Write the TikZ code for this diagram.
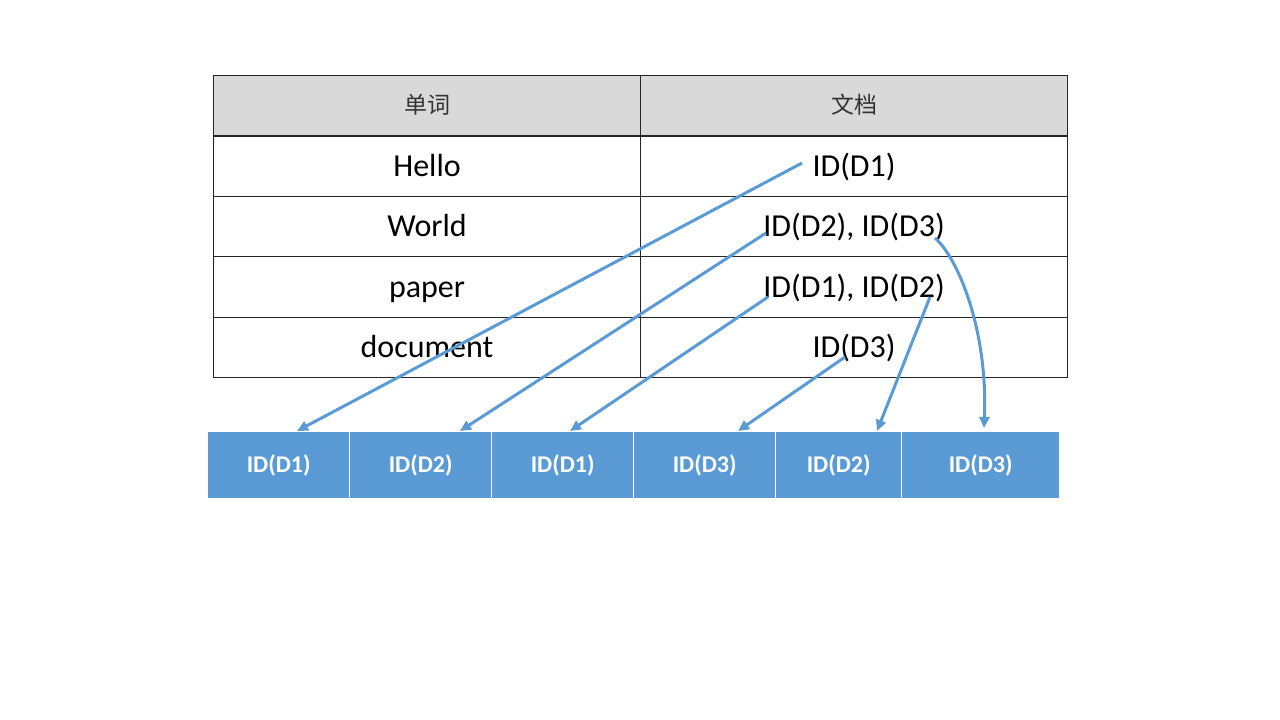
\documentclass[tikz,border=0pt]{standalone}
\usepackage{fontspec}
\setmainfont{Carlito}
\newfontfamily\cjk{Noto Sans CJK SC}
\usetikzlibrary{arrows.meta,calc}
\definecolor{hdr}{HTML}{D9D9D9}
\definecolor{blu}{HTML}{5B9BD5}
\tikzset{
  cell/.style={draw=black!85, line width=1.1pt, minimum width=427pt, minimum height=60.4pt, inner sep=0pt, anchor=north west, font=\fontsize{32}{38}\selectfont, text height=20.6pt, text depth=0pt},
  hcell/.style={cell, fill=hdr, font=\cjk\fontsize{23}{27}\selectfont, text=black!80, text height=17pt, text depth=2pt},
  bbox/.style={fill=blu, draw=white, line width=1.3pt, minimum height=67pt, inner sep=0pt, anchor=north west, text=white, font=\bfseries\fontsize{24}{28}\selectfont, text height=15.5pt, text depth=0pt},
  link/.style={draw=blu, line width=3pt, -{Triangle[length=11pt,width=10pt]}}
}
\begin{document}
\begin{tikzpicture}[x=1pt,y=-1pt]
\useasboundingbox (0,0) rectangle (1280,720);
% table
\node[hcell] (h1) at (213,75) {单词};
\node[hcell] (h2) at (640,75) {文档};
\node[cell] (w1) at (213,135.4) {Hello};
\node[cell] (d1) at (640,135.4) {ID(D1)};
\node[cell] (w2) at (213,195.8) {World};
\node[cell] (d2) at (640,195.8) {ID(D2), ID(D3)};
\node[cell] (w3) at (213,256.2) {paper};
\node[cell] (d3) at (640,256.2) {ID(D1), ID(D2)};
\node[cell] (w4) at (213,316.6) {document};
\node[cell] (d4) at (640,316.6) {ID(D3)};
% bottom list
\node[bbox, minimum width=142pt] (b1) at (207,431) {ID(D1)};
\node[bbox, minimum width=142pt] (b2) at (349,431) {ID(D2)};
\node[bbox, minimum width=142pt] (b3) at (491,431) {ID(D1)};
\node[bbox, minimum width=142pt] (b4) at (633,431) {ID(D3)};
\node[bbox, minimum width=126pt] (b5) at (775,431) {ID(D2)};
\node[bbox, minimum width=158pt] (b6) at (901,431) {ID(D3)};
% arrow ends
\coordinate (s1) at (802,163);
\coordinate (s2) at (766,233);
\coordinate (s3) at (768,297);
\coordinate (s4) at (845,357);
\coordinate (s5) at (930,297);
\coordinate (s6) at (935,238);
\coordinate (e1) at (297,431);
\coordinate (e2) at (460,431);
\coordinate (e3) at (570,431);
\coordinate (e4) at (738,431);
\coordinate (e5) at (877,431);
\coordinate (e6) at (984,428);
\draw[link] (s1) -- (e1);
\draw[link] (s2) -- (e2);
\draw[link] (s3) -- (e3);
\draw[link] (s4) -- (e4);
\draw[link] (s5) -- (e5);
\draw[link] (s6) .. controls (958,258) and (988,330) .. (e6);
\end{tikzpicture}
\end{document}
